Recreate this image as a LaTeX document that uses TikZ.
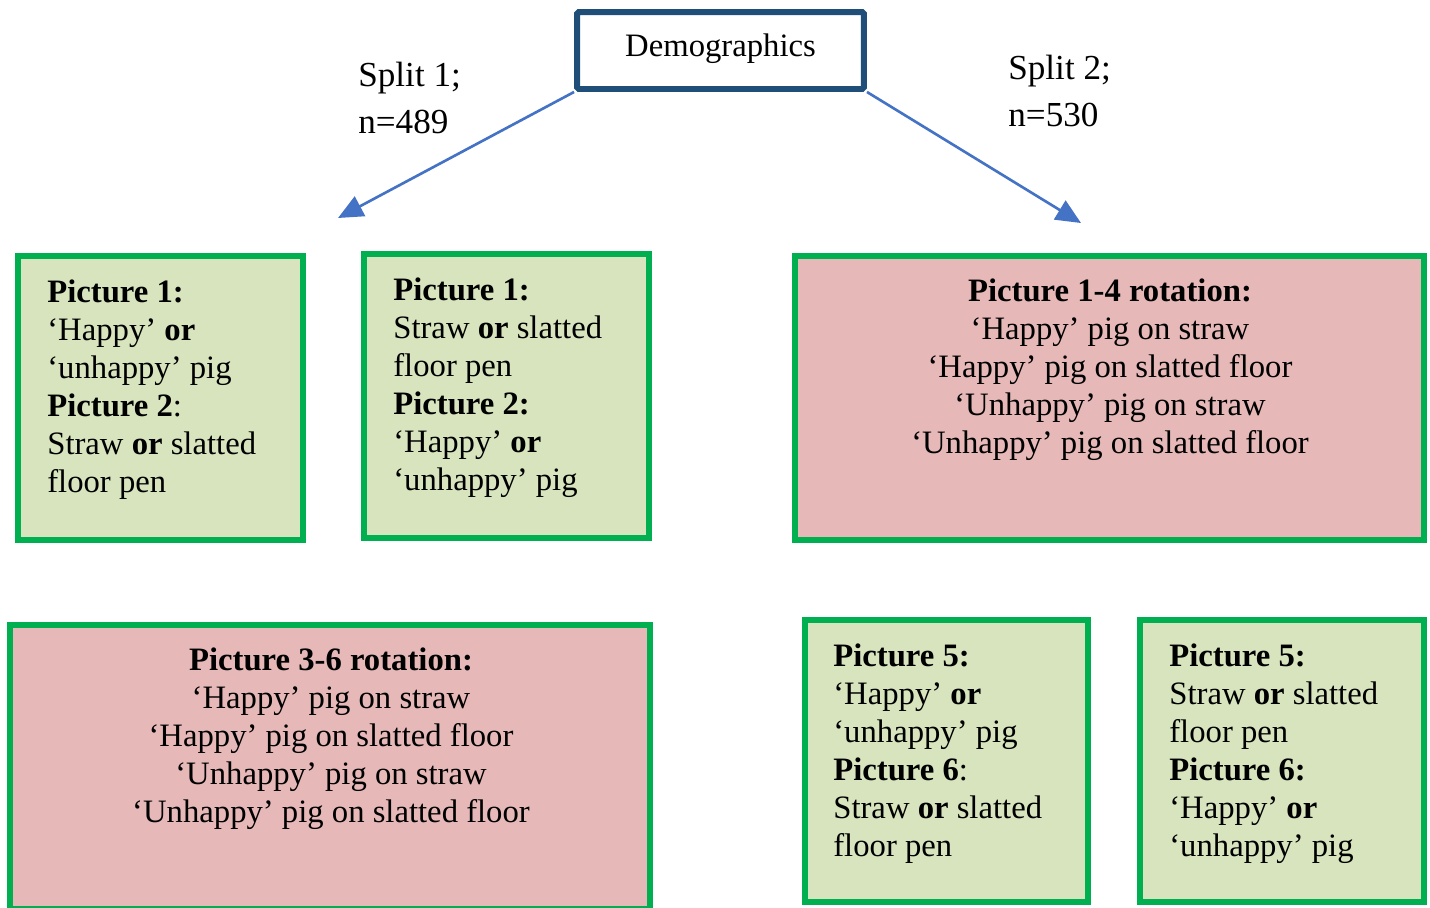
\documentclass[tikz,border=0pt]{standalone}
\usepackage{fontspec}
\setmainfont{Liberation Serif}
\usepackage{xcolor}
\usetikzlibrary{arrows.meta,positioning}

\definecolor{framegreen}{HTML}{00B050}
\definecolor{fillgreen}{HTML}{D7E4BD}
\definecolor{fillpink}{HTML}{E6B9B8}
\definecolor{framenavy}{HTML}{1F4E79}
\definecolor{arrowblue}{HTML}{4472C4}

\begin{document}
\begin{tikzpicture}[
    x=0.02cm, y=-0.02cm,
    greenbox/.style={rectangle, draw=framegreen, line width=3.4pt, fill=fillgreen},
    pinkbox/.style={rectangle, draw=framegreen, line width=3.4pt, fill=fillpink},
    topbox/.style={rectangle, draw=framenavy, line width=3.4pt, fill=white, rounded corners=1pt},
    body/.style={font=\fontsize{18.6}{21.55}\selectfont, align=left, anchor=base west, inner sep=0pt},
    midbody/.style={font=\fontsize{18.6}{21.55}\selectfont, align=center, anchor=base, inner sep=0pt},
    splitlabel/.style={font=\fontsize{20}{26.7}\selectfont, align=left, anchor=base west, inner sep=0pt},
    arrow/.style={-{Triangle[length=0.5cm,width=0.44cm]}, line width=1.5pt, draw=arrowblue}
]
\useasboundingbox (0,0) rectangle (1430,907);

% top of the tree (text nodes sit on their last baseline)
\node[topbox, minimum width=5.74cm, minimum height=1.54cm] (demo) at (720.5,50.5) {};
\node[font=\fontsize{18.6}{21.55}\selectfont, anchor=base, inner sep=0pt] (demotext) at (720.5,56) {Demographics};

\node[splitlabel] (split1) at (358,133) {Split 1;\\n=489};
\node[splitlabel] (split2) at (1008,126) {Split 2;\\n=530};

\coordinate (tip1) at (338,218);
\coordinate (tip2) at (1081,223);
\draw[arrow] (demo.south west) -- (tip1);
\draw[arrow] (demo.south east) -- (tip2);

% split 1, upper row
\node[greenbox, minimum width=5.7cm, minimum height=5.68cm] (picA) at (160.5,398) {};
\node[body] (textA) at (47,492) {\textbf{Picture 1:}\\‘Happy’ \textbf{or}\\‘unhappy’ pig\\\textbf{Picture 2}:\\Straw \textbf{or} slatted\\floor pen};

\node[greenbox, minimum width=5.72cm, minimum height=5.69cm] (picB) at (506.5,396) {};
\node[body] (textB) at (393,490) {\textbf{Picture 1:}\\Straw \textbf{or} slatted\\floor pen\\\textbf{Picture 2:}\\‘Happy’ \textbf{or}\\‘unhappy’ pig};

% split 2, upper row
\node[pinkbox, minimum width=12.58cm, minimum height=5.68cm] (picC) at (1109.5,398) {};
\node[midbody] (textC) at (1110,453) {\textbf{Picture 1-4 rotation:}\\‘Happy’ pig on straw\\‘Happy’ pig on slatted floor\\‘Unhappy’ pig on straw\\‘Unhappy’ pig on slatted floor};

% split 1, lower row
\node[pinkbox, minimum width=12.8cm, minimum height=5.68cm] (picD) at (330,767) {};
\node[midbody] (textD) at (331,822) {\textbf{Picture 3-6 rotation:}\\‘Happy’ pig on straw\\‘Happy’ pig on slatted floor\\‘Unhappy’ pig on straw\\‘Unhappy’ pig on slatted floor};

% split 2, lower row
\node[greenbox, minimum width=5.66cm, minimum height=5.65cm] (picE) at (946.5,760.75) {};
\node[body] (textE) at (833,856) {\textbf{Picture 5:}\\‘Happy’ \textbf{or}\\‘unhappy’ pig\\\textbf{Picture 6}:\\Straw \textbf{or} slatted\\floor pen};

\node[greenbox, minimum width=5.68cm, minimum height=5.65cm] (picF) at (1282,760.75) {};
\node[body] (textF) at (1169,856) {\textbf{Picture 5:}\\Straw \textbf{or} slatted\\floor pen\\\textbf{Picture 6:}\\‘Happy’ \textbf{or}\\‘unhappy’ pig};

\end{tikzpicture}
\end{document}
